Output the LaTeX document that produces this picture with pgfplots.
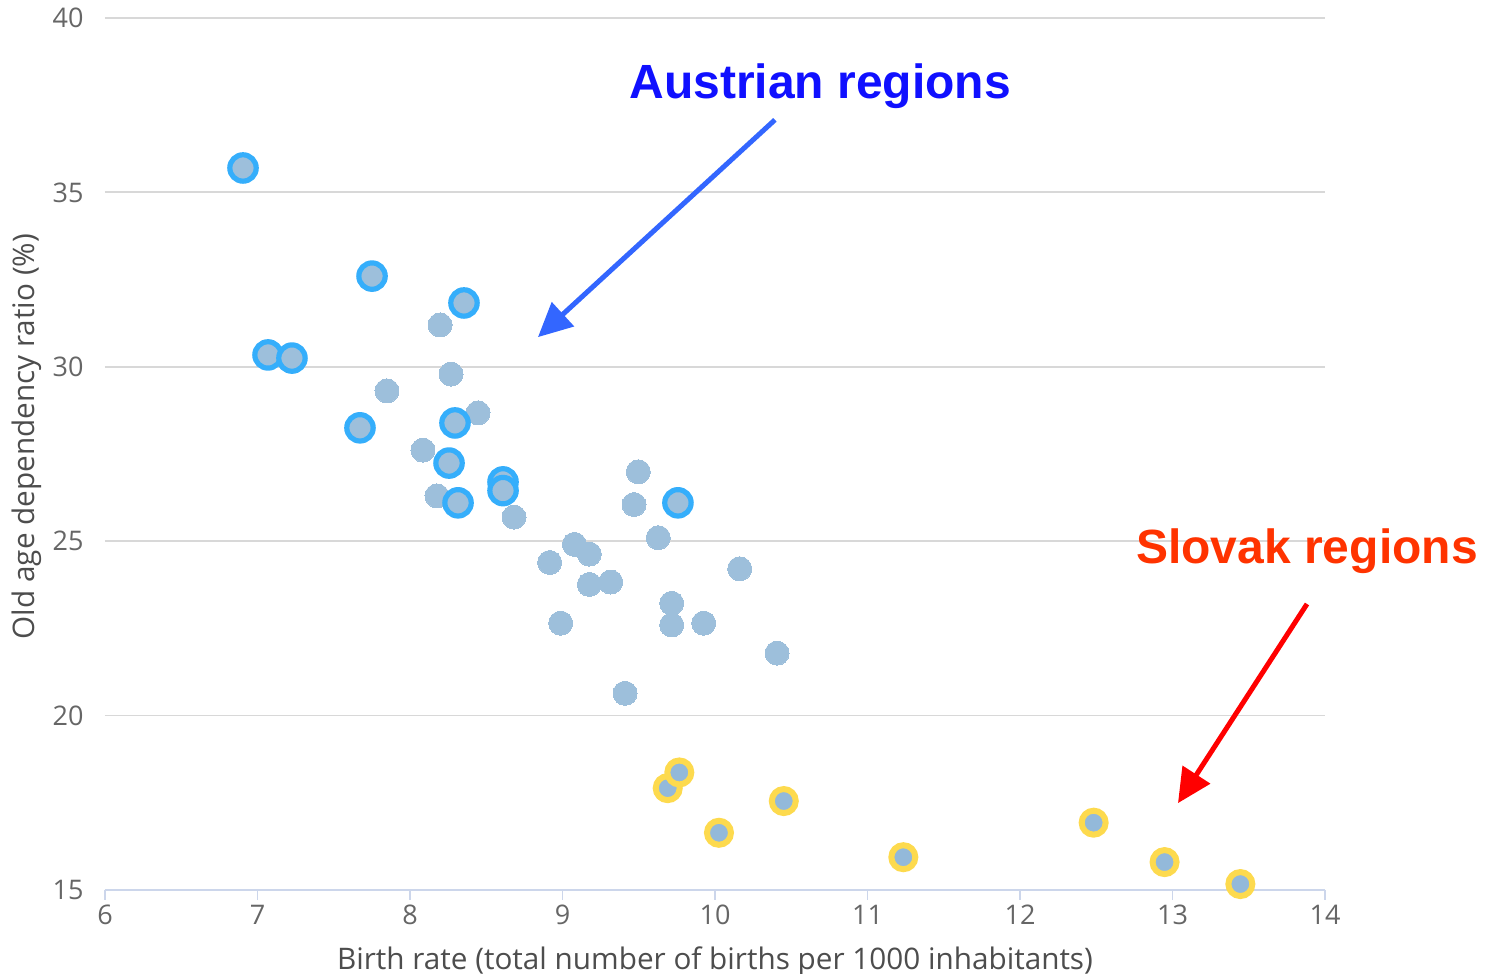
\documentclass[border=0pt]{standalone}
\usepackage{pgfplots}
\pgfplotsset{compat=1.18}
\usepackage{fontspec}
\setmainfont{Open Sans}
\newfontfamily\annfont{Liberation Sans}
\usetikzlibrary{arrows.meta}
\definecolor{ptgrey}{HTML}{9DBFDB}
\definecolor{ptinner}{HTML}{93B9DA}
\definecolor{ringblue}{HTML}{35AEFB}
\definecolor{ringyellow}{HTML}{FDDA4E}
\definecolor{axisblue}{HTML}{CCD6EB}
\definecolor{gridgrey}{HTML}{D8D8D8}
\definecolor{ticktext}{HTML}{666666}
\definecolor{titletext}{HTML}{4D4D4D}
\definecolor{annblue}{HTML}{1010FF}
\definecolor{annred}{HTML}{FF3300}
\definecolor{arrowblue}{HTML}{3366FF}
\definecolor{arrowred}{HTML}{FF0000}

\pgfplotstableread{
x y
8.197 31.20
8.269 29.79
7.849 29.31
8.446 28.68
8.085 27.61
8.177 26.30
8.682 25.69
9.497 26.99
9.469 26.05
9.628 25.10
9.078 24.91
9.176 24.63
8.916 24.39
9.176 23.76
9.316 23.83
10.162 24.21
9.716 23.22
9.716 22.60
9.926 22.65
8.988 22.65
10.407 21.79
9.410 20.64
}\greydata

\pgfplotstableread{
x y
6.905 35.70
7.751 32.60
8.354 31.83
7.069 30.34
7.226 30.25
7.672 28.25
8.295 28.39
8.256 27.24
8.315 26.10
8.61 26.70
8.61 26.45
9.757 26.10
}\austria

\pgfplotstableread{
x y
9.69 17.92
9.766 18.37
10.026 16.64
10.451 17.55
11.235 15.94
12.483 16.93
12.948 15.80
13.445 15.17
}\slovak

\begin{document}
\begin{tikzpicture}
\begin{axis}[
  scale only axis,
  width=610pt, height=436pt,
  xmin=6, xmax=14, ymin=15, ymax=40,
  xtick={6,7,...,14}, ytick={15,20,...,40},
  axis x line*=bottom, axis y line*=left,
  x axis line style={-, draw=axisblue, line width=1pt},
  y axis line style={draw=none},
  ymajorgrids, grid style={gridgrey, line width=0.9pt},
  tick align=outside, major tick length=5pt,
  xtick style={draw=axisblue, line width=0.9pt},
  ytick style={draw=none},
  /pgf/number format/assume math mode=true,
  ticklabel style={font=\fontsize{13.5}{16}\selectfont, text=ticktext},
  xticklabel style={anchor=north, inner sep=0pt, yshift=-2.5pt},
  yticklabel style={anchor=east, inner sep=0pt, xshift=-5.5pt},
  xlabel={Birth rate (total number of births per 1000 inhabitants)},
  ylabel={Old age dependency ratio (\%)},
  label style={font=\fontsize{14.85}{17}\selectfont, text=titletext},
  xlabel style={at={(axis description cs:0.5,-0.082)}, anchor=center},
  ylabel style={at={(axis description cs:-0.064,0.52)}, anchor=center},
  clip=false,
]
\addplot[only marks, color=ptgrey, mark=*, mark size=6pt, mark options={fill=ptgrey, draw=ptgrey, line width=0pt}] table {\greydata};
\addplot[only marks, color=ringblue, mark=*, mark size=6.6pt, mark options={fill=ptgrey, draw=ringblue, line width=2.6pt}] table {\austria};
\addplot[only marks, color=ringyellow, mark=*, mark size=6pt, mark options={fill=ptinner, draw=ringyellow, line width=3pt}] table {\slovak};

\node[font=\annfont\bfseries\fontsize{24}{28}\selectfont, text=annblue] at (axis cs:10.689,38.05) {Austrian regions};
\node[font=\annfont\bfseries\fontsize{24}{28}\selectfont, text=annred] at (axis cs:13.882,24.72) {Slovak regions};
\draw[arrowblue, line width=2.5pt, -{Triangle[length=17pt,width=16pt]}] (axis cs:10.393,37.08) -- (axis cs:8.839,30.85);
\draw[arrowred, line width=2.5pt, -{Triangle[length=17pt,width=16pt]}] (axis cs:13.882,23.20) -- (axis cs:13.036,17.49);
\end{axis}
\pgfresetboundingbox
\path[use as bounding box] (-52.5pt,-42pt) rectangle (692pt,445pt);
\end{tikzpicture}
\end{document}
